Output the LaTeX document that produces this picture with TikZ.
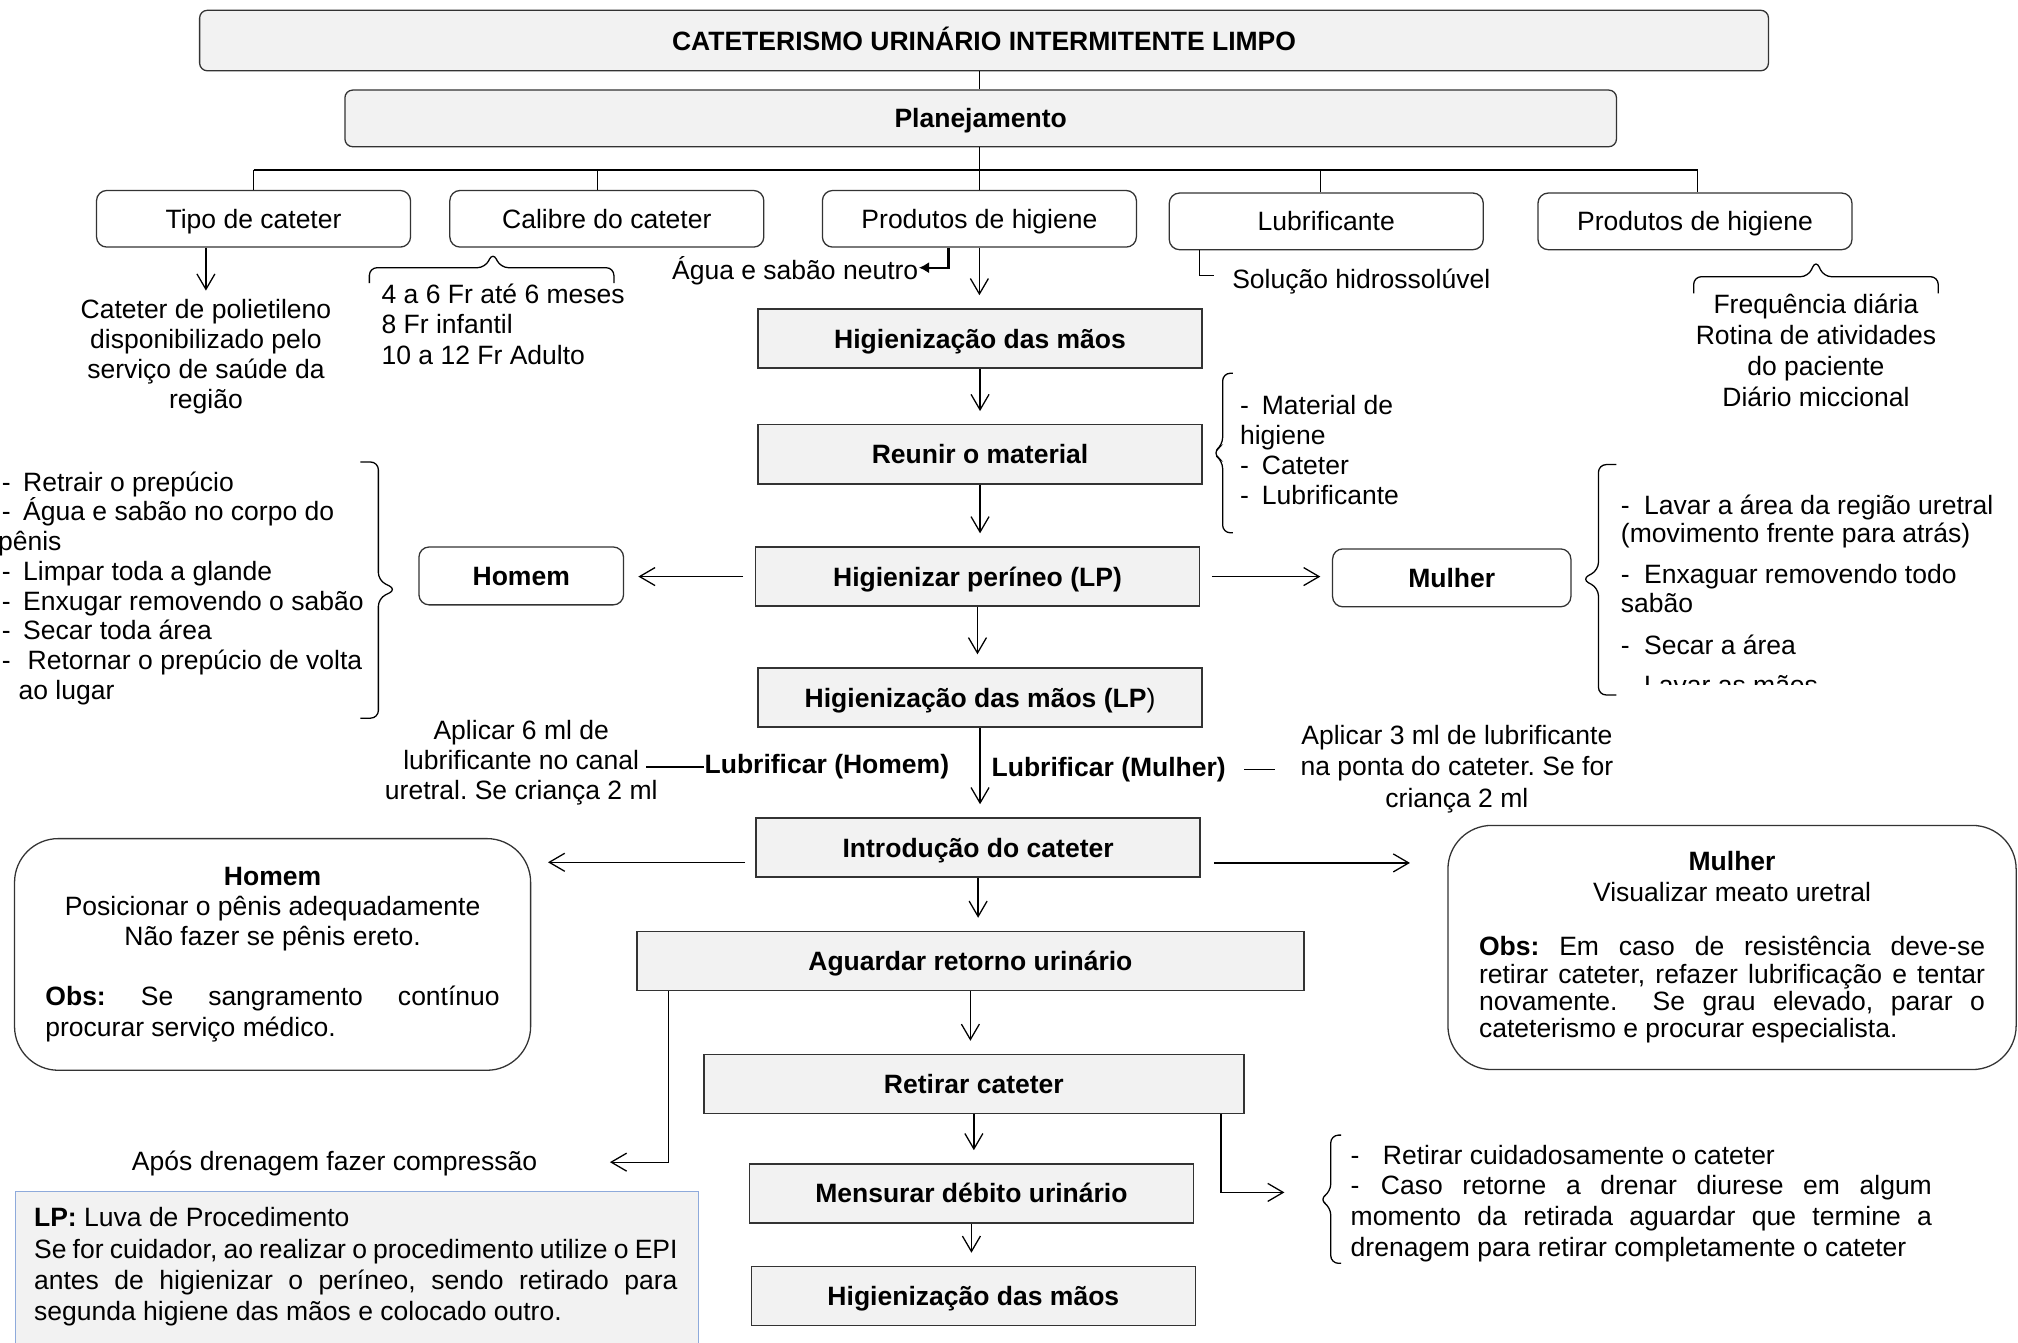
\documentclass[tikz,border=0pt]{standalone}
\usepackage{fontspec}
\setmainfont{Liberation Sans}
\usetikzlibrary{arrows.meta}
\definecolor{lpblue}{HTML}{8EAADB}
\frenchspacing
\newcommand{\jline}[2]{\makebox[#1][s]{#2}}
\newcommand{\dashitem}[2][0pt]{\makebox[#2][l]{\hspace{#1}-}}

\begin{document}
\begin{tikzpicture}[x=0.5pt,y=-0.5pt,line width=0.5pt,
    font=\fontsize{10.3}{11.7}\selectfont,
    every node/.style={inner sep=0pt},
    topbox/.style={draw=black!80, fill=black!5, rounded corners=3pt, text height=7.4pt, text depth=0pt, font=\fontsize{10.3}{11.7}\selectfont\bfseries},
    catbox/.style={draw=black!80, rounded corners=4pt, minimum width=122pt, minimum height=22pt, text height=7.4pt, text depth=0pt},
    stepbox/.style={draw=black!80, line width=0.6pt, fill=black!5, minimum width=172.5pt, minimum height=23pt, text height=7.4pt, text depth=0pt, font=\fontsize{10.3}{11.7}\selectfont\bfseries},
    sexbox/.style={draw=black!80, rounded corners=4pt, minimum height=22.5pt, text height=7.4pt, text depth=0pt, font=\fontsize{10.3}{11.7}\selectfont\bfseries},
    bigbox/.style={draw=black!80, rounded corners=17pt, align=center},
    boldtxt/.style={font=\fontsize{10.3}{11.7}\selectfont\bfseries},
    arr/.style={-{Straight Barb[length=6pt,width=7pt]}},
    heavy/.style={line width=0.9pt, -{Latex[length=4pt,width=4.5pt]}},
    bracket/.style={rounded corners=3pt},
  ]
\useasboundingbox (0,0) rectangle (1568,1043);

% title and planning
\node[topbox, minimum width=609.5pt, minimum height=23.5pt] (title) at (764.6,31.5) {CATETERISMO URINÁRIO INTERMITENTE LIMPO};
\node[topbox, minimum width=494pt, minimum height=22pt] (plan) at (762,92) {Planejamento};

% categories
\node[catbox] (tipo) at (197,170) {Tipo de cateter};
\node[catbox] (calibre) at (471.5,170) {Calibre do cateter};
\node[catbox] (prod) at (761,170) {Produtos de higiene};
\node[catbox] (lubri) at (1030.5,172) {Lubrificante};
\node[catbox] (freq) at (1317,172) {Produtos de higiene};

\coordinate (bus) at (761,132);
\coordinate (calup) at ([xshift=-3.75pt]calibre.north);
\coordinate (lubup) at ([xshift=-2.25pt]lubri.north);
\coordinate (frequp) at ([xshift=1pt]freq.north);
\draw (prod.north |- title.south) -- (prod.north |- plan.north);
\draw (prod.north |- plan.south) -- (prod.north);
\draw (tipo.north |- bus) -- (frequp |- bus);
\draw (tipo.north |- bus) -- (tipo.north);
\draw (calup |- bus) -- (calup);
\draw (lubup |- bus) -- (lubup);
\draw (frequp |- bus) -- (frequp);

% details of the categories
\node[align=center] (tipotxt) at (160,277) {Cateter de polietileno\\disponibilizado pelo\\serviço de saúde da\\região};
\draw[arr, shorten >=3pt] (tipotxt.north |- tipo.south) -- (tipotxt.north);

\draw[bracket] (287,220) -- (287,208) -- (377,208) -- (383,196) -- (389,208) -- (477,208) -- (477,220);
\node[anchor=west, align=left] (calibretxt) at (296,252) {4 a 6 Fr até 6 meses\\8 Fr infantil\\10 a 12 Fr Adulto};

\node[anchor=east] (agua) at (714,210) {Água e sabão neutro};
\coordinate (aguaknee) at (737,208);
\draw[heavy] (aguaknee |- prod.south) -- (aguaknee) -- (aguaknee -| agua.east);

\node[anchor=west] (soluc) at (957,218.5) {Solução hidrossolúvel};
\coordinate (lubknee) at (932,214);
\draw (lubknee |- lubri.south) -- (lubknee) -- ([xshift=-7pt]soluc.west |- lubknee);

\draw[bracket] (1316,228) -- (1316,215) -- (1405,215) -- (1411,202) -- (1417,215) -- (1506,215) -- (1506,228);
\node[align=center, font=\fontsize{10.3}{12}\selectfont] (freqtxt) at (1411,272) {Frequência diária\\Rotina de atividades\\do paciente\\Diário miccional};

% main flow
\node[stepbox] (hig1) at (761.5,263) {Higienização das mãos};
\node[stepbox] (reunir) at (761.5,353) {Reunir o material};
\node[stepbox] (higper) at (759.5,448) {Higienizar períneo (LP)};
\node[stepbox] (higlp) at (761.5,542) {Higienização das mãos (LP\textmd{)}};
\node[stepbox] (intro) at (760,658.5) {Introdução do cateter};
\node[stepbox, minimum width=259pt] (aguardar) at (754,746.7) {Aguardar retorno urinário};
\node[stepbox, minimum width=209.7pt] (retirar) at (756.7,842.3) {Retirar cateter};
\node[stepbox] (mensurar) at (754.8,927.3) {Mensurar débito urinário};
\node[stepbox] (hig2) at (756.3,1007) {Higienização das mãos};

\foreach \a/\b in {prod/hig1, hig1/reunir, reunir/higper, higper/higlp, higlp/intro,
                   intro/aguardar, aguardar/retirar, retirar/mensurar, mensurar/hig2}
  \draw[arr, shorten >=5pt] (\a.south) -- (\a.south |- \b.north);

% material
\draw[bracket] (958,290) -- (950,290) -- (950,346) -- (942,352) -- (950,358) -- (950,414) -- (958,414);
\node[anchor=west, align=left] (material) at (963,349.5) {\dashitem{8.5pt}Material de\\higiene\\\dashitem{8.5pt}Cateter\\\dashitem{8.5pt}Lubrificante};

% perineal hygiene
\node[sexbox, minimum width=79.5pt] (homem) at (405,447.5) {Homem};
\node[sexbox, minimum width=92.6pt] (mulher) at (1128,449) {Mulher};
\draw[arr, shorten <=4.5pt, shorten >=5.5pt] (higper.west) -- (higper.west -| homem.east);
\draw[arr, shorten <=4.5pt, shorten >=4.5pt] (higper.east) -- (higper.east -| mulher.west);

\draw[bracket] (280,359) -- (294,359) -- (294,451) -- (308,458) -- (294,465) -- (294,558) -- (280,558);
\node[anchor=west, align=left, font=\fontsize{10.3}{11.55}\selectfont] (homemlist) at (-2,457) {%
  \dashitem[1.5pt]{9.75pt}Retrair o prepúcio\\
  \dashitem[1.5pt]{9.75pt}Água e sabão no corpo do\\
  pênis\\
  \dashitem[1.5pt]{9.75pt}Limpar toda a glande\\
  \dashitem[1.5pt]{9.75pt}Enxugar removendo o sabão\\
  \dashitem[1.5pt]{9.75pt}Secar toda área\\
  \dashitem[1.5pt]{11.5pt}Retornar o prepúcio de volta\\
  \hspace*{8pt}ao lugar};

\draw[bracket] (1256,361) -- (1242,361) -- (1242,443) -- (1229,450) -- (1242,457) -- (1242,540) -- (1256,540);
\begin{scope}
  \clip (1250,365) rectangle (1568,531.5);
  \node[anchor=north west, align=left] (mulherlist) at (1259,384) {%
    \dashitem{9pt}Lavar a área da região uretral\\[-0.95pt]
    (movimento frente para atrás)\\[4.5pt]
    \dashitem{9pt}Enxaguar removendo todo\\[-0.4pt]
    sabão\\[4.55pt]
    \dashitem{9pt}Secar a área\\[3.8pt]
    \dashitem{9pt}Lavar as mãos};
\end{scope}

% lubrication
\node[boldtxt, anchor=east] (lubh) at (738,596) {Lubrificar (Homem)};
\node[align=center] (aplic6) at (405,592.5) {Aplicar 6 ml de\\lubrificante no canal\\uretral. Se criança 2 ml};
\draw (lubh.west) -- ([xshift=-22.5pt]lubh.west);
\node[boldtxt, anchor=west] (lubm) at (770,598) {Lubrificar (Mulher)};
\node[align=center, font=\fontsize{10.3}{12.2}\selectfont] (aplic3) at (1132,597.5) {Aplicar 3 ml de lubrificante\\na ponta do cateter. Se for\\criança 2 ml};
\draw ([xshift=7pt]lubm.east) -- ([xshift=19pt]lubm.east);

% insertion
\node[bigbox, minimum width=200.5pt, minimum height=90pt] (homembig) at (211.8,741.6) {%
  \textbf{Homem}\\Posicionar o pênis adequadamente\\Não fazer se pênis ereto.\\[11.7pt]
  \jline{176.5pt}{\textbf{Obs:} Se sangramento contínuo}\\
  \makebox[176.5pt][l]{procurar serviço médico.}};
\node[bigbox, minimum width=220.75pt, minimum height=94.85pt] (mulherbig) at (1345.8,736.2) {%
  \textbf{Mulher}\\Visualizar meato uretral\\[9.65pt]
  \jline{196.6pt}{\textbf{Obs:} Em caso de resistência deve-se}\\[-1.1pt]
  \jline{196.6pt}{retirar cateter, refazer lubrificação e tentar}\\[-1.1pt]
  \jline{196.6pt}{novamente.\ \ Se grau elevado, parar o}\\[-1.1pt]
  \makebox[196.6pt][l]{cateterismo e procurar especialista.}};
\coordinate (introL) at ([yshift=-5.75pt]intro.west);
\coordinate (introR) at ([yshift=-6pt]intro.east);
\draw[arr, shorten <=4pt, shorten >=6.5pt] (introL) -- (introL -| homembig.east);
\draw[arr, shorten <=5pt, shorten >=14.5pt] (introR) -- (introR -| mulherbig.west);

% drainage and removal
\node (apos) at (260,904) {Após drenagem fazer compressão};
\coordinate (aposknee) at (519.5,903);
\draw[arr, shorten >=28pt] (aposknee |- aguardar.south) -- (aposknee) -- (aposknee -| apos.east);

\draw[bracket] (1042,882) -- (1034,882) -- (1034,926) -- (1025,932) -- (1034,938) -- (1034,981.6) -- (1042,981.6);
\node[anchor=west, align=left, font=\fontsize{10.3}{11.9}\selectfont] (retlist) at (1049,935) {%
  \dashitem{12.5pt}Retirar cuidadosamente o cateter\\
  \jline{225.8pt}{\dashitem{11.75pt}Caso retorne a drenar diurese em algum}\\
  \jline{225.8pt}{momento da retirada aguardar que termine a}\\
  drenagem para retirar completamente o cateter};
\coordinate (retknee) at (948.7,926.5);
\draw[arr, shorten >=25.5pt] (retknee |- retirar.south) -- (retknee) -- (retknee -| retlist.west);

% legend
\node[draw=lpblue, fill=black!5, minimum width=265.35pt, minimum height=67.25pt, anchor=north west] (lpframe) at (11.3,925.5) {};
\node[anchor=west, align=left, font=\fontsize{10.3}{12.15}\selectfont] (lp) at (26,984.5) {%
  \textbf{LP:} Luva de Procedimento\\
  \jline{250pt}{Se for cuidador, ao realizar o procedimento utilize o EPI}\\
  \jline{250pt}{antes de higienizar o períneo, sendo retirado para}\\
  segunda higiene das mãos e colocado outro.};
\end{tikzpicture}
\end{document}
